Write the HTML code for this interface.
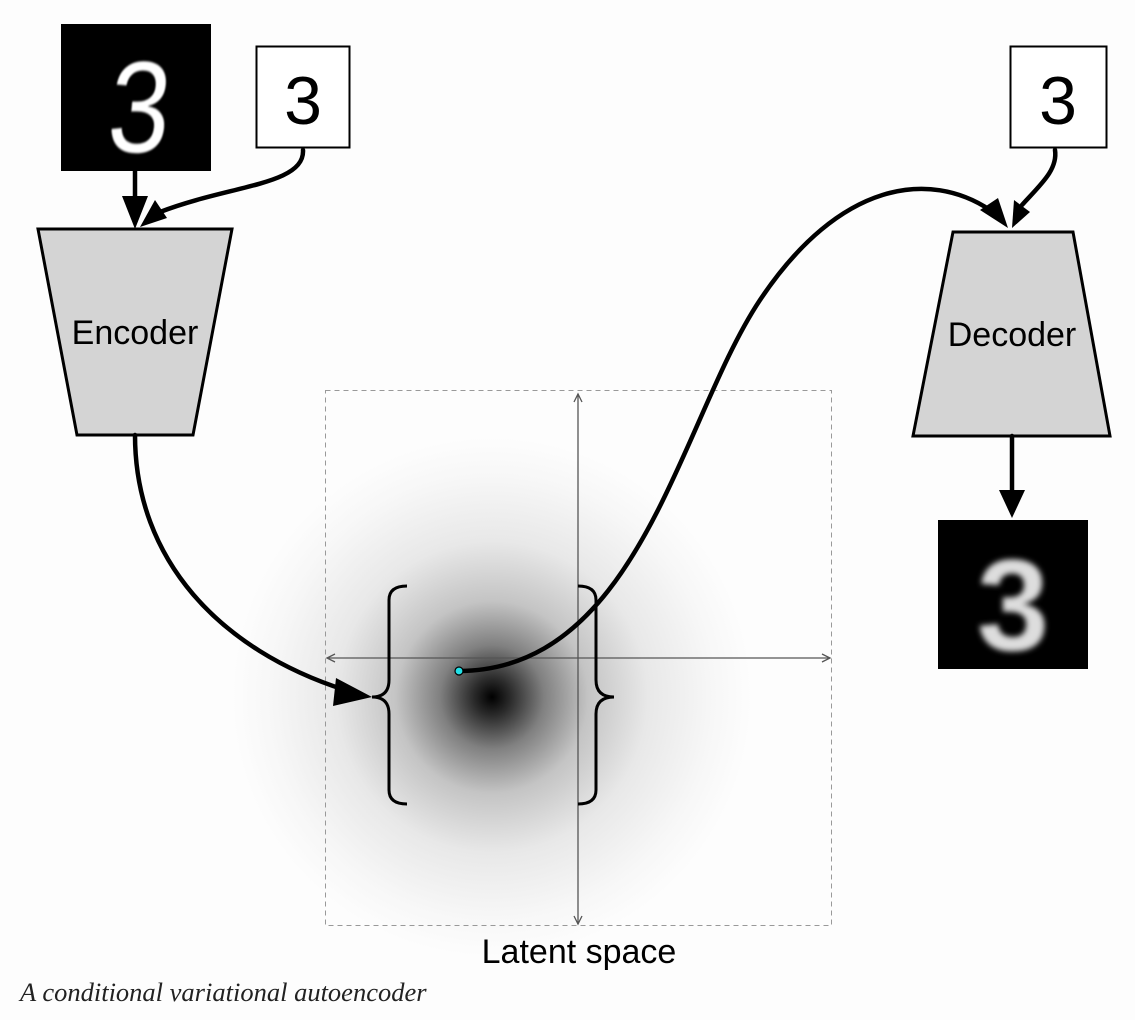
<!DOCTYPE html>
<html><head><meta charset="utf-8"><style>
html,body{margin:0;padding:0;background:#fdfdfd;}
svg{display:block;}
</style></head><body>
<svg width="1135" height="1020" viewBox="0 0 1135 1020" xmlns="http://www.w3.org/2000/svg">
<defs>
<radialGradient id="gauss" cx="492" cy="697" r="260" gradientUnits="userSpaceOnUse">
<stop offset="0" stop-color="#000"/>
<stop offset="0.07" stop-color="#2a2a2a"/>
<stop offset="0.2" stop-color="#808080"/>
<stop offset="0.37" stop-color="#c4c4c4"/>
<stop offset="0.6" stop-color="#e8e8e8"/>
<stop offset="0.85" stop-color="#f7f7f7"/>
<stop offset="1" stop-color="#fdfdfd"/>
</radialGradient>
<filter id="blur1"><feGaussianBlur stdDeviation="1"/></filter>
<filter id="blur3"><feGaussianBlur stdDeviation="3"/></filter>
</defs>
<rect x="0" y="0" width="1135" height="1020" fill="#fdfdfd"/>
<rect x="200" y="430" width="580" height="540" fill="url(#gauss)"/>
<rect x="325.5" y="390.5" width="506" height="535" fill="none" stroke="#999" stroke-dasharray="5,4"/>
<g stroke="#555" stroke-width="1.3" fill="none">
<line x1="327" y1="658" x2="830" y2="658"/>
<polyline points="335,654 327,658 335,662"/><polyline points="822,654 830,658 822,662"/>
<line x1="578" y1="394" x2="578" y2="924"/>
<polyline points="574,402 578,394 582,402"/><polyline points="574,916 578,924 582,916"/>
</g>
<path d="M407,586 Q389,586 389,600 L389,680 Q389,697 372,697 Q389,697 389,714 L389,790 Q389,804 407,804" fill="none" stroke="#000" stroke-width="3"/>
<path d="M578,586 Q596,586 596,600 L596,680 Q596,697 614,697 Q596,697 596,714 L596,790 Q596,804 578,804" fill="none" stroke="#000" stroke-width="3"/>
<g>
<rect x="61" y="24" width="150" height="147" fill="#000"/>
<text x="0" y="0" font-family="Liberation Sans, sans-serif" font-size="130" fill="#fff" text-anchor="middle" filter="url(#blur1)" transform="translate(136,152) scale(0.85,1) skewX(-6)">3</text>
</g>
<g>
<rect x="256.5" y="46.5" width="93" height="101" fill="#fff" stroke="#000" stroke-width="2"/>
<text x="303" y="124" font-family="Liberation Sans, sans-serif" font-size="68" text-anchor="middle">3</text>
</g>
<g>
<rect x="1010.5" y="46.5" width="96" height="101" fill="#fff" stroke="#000" stroke-width="2"/>
<text x="1058" y="124" font-family="Liberation Sans, sans-serif" font-size="68" text-anchor="middle">3</text>
</g>
<g>
<rect x="938" y="520" width="150" height="149" fill="#000"/>
<text x="1013" y="650" font-family="Liberation Sans, sans-serif" font-weight="bold" font-size="130" fill="#ddd" text-anchor="middle" filter="url(#blur3)">3</text>
</g>
<g>
<polygon points="38,229 232,229 193,435 77,435" fill="#d4d4d4" stroke="#000" stroke-width="3"/>
<text x="135" y="344" font-family="Liberation Sans, sans-serif" font-size="34" text-anchor="middle">Encoder</text>
</g>
<g>
<polygon points="953,232 1073,232 1110,436 913,436" fill="#d4d4d4" stroke="#000" stroke-width="3"/>
<text x="1012" y="346" font-family="Liberation Sans, sans-serif" font-size="34" text-anchor="middle">Decoder</text>
</g>
<g fill="none" stroke="#000" stroke-width="4.5" stroke-linecap="round">
<line x1="135" y1="171" x2="135" y2="205"/>
<path d="M303,150 C305,185 230,185 160,212"/>
<path d="M135,435 C135,560 220,650 345,690"/>
<path d="M459,671 C640,670 680,420 760,300 C840,180 930,170 990,210"/>
<path d="M1055,150 C1058,170 1040,185 1022,205"/>
<line x1="1012" y1="436" x2="1012" y2="495"/>
</g>
<g fill="#000">
<polygon points="122,196 148,196 135,229"/>
<polygon points="140,227 155,200 167,218"/>
<polygon points="372,697 336,678 333,706"/>
<polygon points="1008,228 980,210 998,198"/>
<polygon points="1012,228 1014,200 1030,212"/>
<polygon points="999,490 1025,490 1012,518"/>
</g>
<circle cx="459" cy="671" r="4" fill="#22e0e6" stroke="#000" stroke-width="1.2"/>
<text x="579" y="963" font-family="Liberation Sans, sans-serif" font-size="34" text-anchor="middle">Latent space</text>
<text x="20" y="1001" font-family="Liberation Serif, serif" font-style="italic" font-size="26.5" fill="#222">A conditional variational autoencoder</text>
</svg>
</body></html>
